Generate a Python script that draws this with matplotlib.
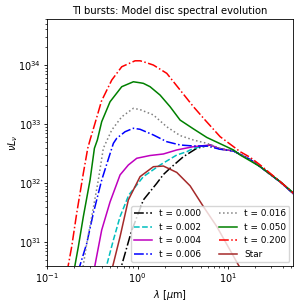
import matplotlib
matplotlib.use("Agg")
import matplotlib.pyplot as plt
import numpy as np

plt.rcParams['font.family'] = ['DejaVu Sans']
plt.rcParams['font.size'] = 7
plt.rcParams['xtick.major.size'] = 2.1
plt.rcParams['ytick.major.size'] = 2.1
plt.rcParams['xtick.minor.size'] = 1.2
plt.rcParams['ytick.minor.size'] = 1.2
plt.rcParams['xtick.major.pad'] = 2.1
plt.rcParams['ytick.major.pad'] = 2.1
plt.rcParams['xtick.minor.pad'] = 2.1
plt.rcParams['ytick.minor.pad'] = 2.1
plt.rcParams['xtick.major.width'] = 0.6
plt.rcParams['ytick.major.width'] = 0.6
plt.rcParams['xtick.minor.width'] = 0.5
plt.rcParams['ytick.minor.width'] = 0.5
plt.rcParams['axes.linewidth'] = 0.6

# wavelengths [um] and nu L_nu values
lam_t000 = [0.62, 0.669, 0.85, 1.159, 1.630, 1.928, 2.287, 3.208, 4.509, 6.33, 8.16, 11.46, 17.5, 22.6, 37.6, 52.8]
val_t000 = [2.6e30, 4.1e30, 1.48e31, 5.2e31, 9.95e31, 1.40e32, 1.79e32, 2.81e32, 3.90e32, 4.43e32, 3.8e32, 3.51e32, 2.51e32, 1.90e32, 1.05e32, 6.6e31]

lam_t002 = [0.438, 0.457, 0.541, 0.641, 0.80, 1.159, 1.773, 2.710, 3.497, 4.139, 6.33, 8.16, 11.46, 17.5, 22.6, 37.6, 52.8]
val_t002 = [3.2e30, 4.1e30, 1.09e31, 2.71e31, 6.3e31, 1.29e32, 2.03e32, 3.0e32, 3.41e32, 3.90e32, 4.43e32, 3.8e32, 3.51e32, 2.51e32, 1.90e32, 1.05e32, 6.6e31]

lam_t004 = [0.328, 0.339, 0.402, 0.497, 0.641, 0.791, 0.980, 1.374, 1.928, 2.710, 4.139, 6.33, 8.16, 11.46, 17.5, 22.6, 37.6, 52.8]
val_t004 = [3.1e30, 4.1e30, 1.61e31, 4.81e31, 1.38e32, 2.03e32, 2.64e32, 2.94e32, 3.12e32, 3.65e32, 4.15e32, 4.43e32, 3.8e32, 3.51e32, 2.51e32, 1.90e32, 1.05e32, 6.6e31]

lam_t006 = [0.220, 0.232, 0.275, 0.325, 0.402, 0.476, 0.541, 0.589, 0.728, 0.899, 1.066, 1.495, 2.101, 2.949, 4.139, 5.82, 8.16, 11.46, 17.5, 22.6, 37.6, 52.8]
val_t006 = [3.2e30, 4.1e30, 9.6e30, 3.10e31, 1.13e32, 2.56e32, 4.73e32, 5.75e32, 7.43e32, 8.5e32, 8.17e32, 6.55e32, 5.04e32, 4.43e32, 4.26e32, 4.26e32, 3.75e32, 3.51e32, 2.51e32, 1.90e32, 1.05e32, 6.6e31]

lam_t016 = [0.2455, 0.252, 0.275, 0.312, 0.369, 0.419, 0.519, 0.669, 0.899, 1.066, 1.495, 2.101, 2.949, 4.139, 4.909, 5.82, 8.16, 11.46, 17.5, 22.6, 37.6, 52.8]
val_t016 = [3.3e30, 4.1e30, 9.6e30, 2.71e31, 1.13e32, 3.9e32, 7.94e32, 1.33e33, 1.85e33, 1.76e33, 1.43e33, 9.0e32, 6.4e32, 5.38e32, 5.04e32, 4.73e32, 3.90e32, 3.51e32, 2.51e32, 1.90e32, 1.05e32, 6.6e31]

lam_t050 = [0.199, 0.204, 0.222, 0.252, 0.299, 0.334, 0.360, 0.402, 0.497, 0.669, 0.899, 1.066, 1.159, 1.374, 1.773, 2.287, 2.949, 4.139, 5.82, 8.16, 11.46, 13.58, 22.6, 37.6, 50.6]
val_t050 = [3.3e30, 4.1e30, 8.4e30, 2.71e31, 1.13e32, 3.9e32, 5.38e32, 1.10e33, 2.39e33, 4.30e33, 5.21e33, 5.01e33, 4.90e33, 4.30e33, 3.10e33, 1.97e33, 1.17e33, 8.3e32, 5.94e32, 4.66e32, 3.65e32, 3.0e32, 1.90e32, 1.06e32, 7.2e31]

lam_t200 = [0.166, 0.172, 0.1875, 0.213, 0.252, 0.282, 0.299, 0.339, 0.400, 0.519, 0.669, 0.938, 1.066, 1.159, 1.495, 2.101, 2.949, 4.139, 5.57, 8.16, 11.46, 13.58, 17.5, 22.6, 37.6, 52.8]
val_t200 = [3.1e30, 4.1e30, 8.4e30, 3.1e31, 1.47e32, 3.9e32, 5.4e32, 1.03e33, 2.46e33, 5.57e33, 9.36e33, 1.18e34, 1.18e34, 1.14e34, 1.0e34, 7.24e33, 3.78e33, 1.97e33, 1.17e33, 6.12e32, 4.15e32, 3.41e32, 2.74e32, 2.03e32, 1.06e32, 6.75e31]

lam_star = [0.516, 0.536, 0.641, 0.791, 1.066, 1.495, 1.928, 2.710, 3.805, 5.34, 7.50, 13.0, 14.7]
val_star = [3.3e30, 4.1e30, 1.24e31, 5.2e31, 1.29e32, 1.90e32, 1.95e32, 1.52e32, 9.0e31, 4.0e31, 1.84e31, 4.1e30, 3.0e30]

labels = ['t = 0.000', 't = 0.002', 't = 0.004', 't = 0.006', 't = 0.016', 't = 0.050', 't = 0.200', 'Star']
title = 'TI bursts: Model disc spectral evolution'

series = [
    (lam_t000, val_t000, 'k', '-.'),
    (lam_t002, val_t002, 'c', '--'),
    (lam_t004, val_t004, 'm', '-'),
    (lam_t006, val_t006, 'b', '-.'),
    (lam_t016, val_t016, 'gray', ':'),
    (lam_t050, val_t050, 'g', '-'),
    (lam_t200, val_t200, 'r', '-.'),
    (lam_star, val_star, 'brown', '-'),
]

fig = plt.figure(figsize=(3.03, 3.03), dpi=100)
ax = fig.add_axes([0.155, 0.123, 0.812, 0.814])
for (lx, ly, c, ls), lab in zip(series, labels):
    ax.plot(lx, ly, color=c, ls=ls, lw=1.1, label=lab)

ax.set_xscale('log')
ax.set_yscale('log')
ax.set_xlim(0.1, 52)
ax.set_ylim(4e30, 6e34)
ax.tick_params(labelsize=7)
ax.set_xlabel(r'$\lambda$ [$\mu$m]', fontsize=7, labelpad=2)
ax.set_ylabel(r'$\nu L_\nu$', fontsize=7)
ax.yaxis.set_label_coords(-0.11, 0.5)
ax.set_title(title, fontsize=7.2, pad=4)
ax.legend(ncol=2, loc='lower right', fontsize=6.4, borderaxespad=0.4)
fig.savefig('out.png', dpi=100)
